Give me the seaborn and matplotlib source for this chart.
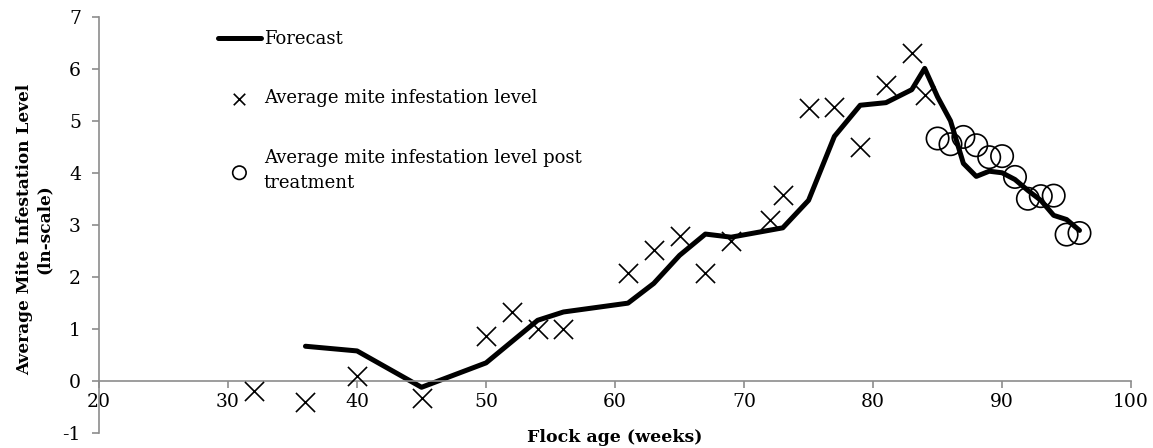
import numpy as np
import pandas as pd
import matplotlib
matplotlib.use('Agg')
import matplotlib.pyplot as plt
import seaborn as sns

# forecast line
forecast_week = [36, 40, 45, 50, 52, 54, 56, 61, 63, 65, 67, 69, 73, 75, 77, 79, 81, 83,
                 84, 85, 86, 87, 88, 89, 90, 91, 92, 93, 94, 95, 96]
forecast_level = [0.67, 0.58, -0.12, 0.35, 0.76, 1.17, 1.33, 1.50, 1.88, 2.42, 2.83, 2.77, 2.95, 3.48,
                  4.71, 5.31, 5.36, 5.61, 6.02, 5.47, 5.01, 4.19, 3.94, 4.04, 4.01, 3.88, 3.67,
                  3.48, 3.19, 3.11, 2.90]

# observed mite levels
mite_week = [32, 36, 40, 45, 50, 52, 54, 56, 61, 63, 65, 67, 69, 72, 73, 75, 77, 79, 81, 83, 84]
mite_level = [-0.20, -0.40, 0.09, -0.33, 0.87, 1.32, 1.00, 1.00, 2.08, 2.53, 2.80, 2.08, 2.70,
              3.10, 3.58, 5.25, 5.28, 4.50, 5.70, 6.31, 5.50]

# observed mite levels after treatment
post_week = [85, 86, 87, 88, 89, 90, 91, 92, 93, 94, 95, 96]
post_level = [4.67, 4.56, 4.70, 4.54, 4.31, 4.33, 3.93, 3.51, 3.56, 3.57, 2.82, 2.85]

sns.set_style('ticks')
plt.rcParams['font.family'] = ['DejaVu Serif']
plt.rcParams['axes.unicode_minus'] = False
plt.rcParams['text.color'] = 'black'
plt.rcParams['axes.labelcolor'] = 'black'

fig = plt.figure(figsize=(11.53, 4.48), dpi=100)
ax = fig.add_axes([0.0859, 0.0335, 0.8951, 0.9275])

sns.lineplot(x=forecast_week, y=forecast_level, color='black', linewidth=3.6,
             ax=ax, label='Forecast')
sns.scatterplot(x=mite_week, y=mite_level, marker='x', color='black', s=190,
                linewidth=1.2, ax=ax, label='Average mite infestation level', zorder=3)
sns.scatterplot(x=post_week, y=post_level, marker='o', facecolor='none', edgecolor='black',
                s=260, linewidth=1.2, ax=ax,
                label='Average mite infestation level post\ntreatment', zorder=3)

ax.set_xlim(20, 100)
ax.set_ylim(-1, 7)
ax.set_xticks(range(20, 101, 10))
ax.set_yticks(range(-1, 8))

gray = '#8c8c8c'
ax.spines['right'].set_visible(False)
ax.spines['top'].set_visible(False)
ax.spines['bottom'].set_position(('data', 0))
for s in ['left', 'bottom']:
    ax.spines[s].set_color(gray)
    ax.spines[s].set_linewidth(1.2)
ax.tick_params(axis='both', colors=gray, labelcolor='black', labelsize=13.5,
               length=5, width=1.2, direction='out')
ax.tick_params(axis='y', pad=8)

ax.set_xlabel('Flock age (weeks)', fontsize=12.5, fontweight='bold')
ax.xaxis.set_label_coords(0.5, 0.01)
ax.set_ylabel('Average Mite Infestation Level\n(ln-scale)', fontsize=12.2,
              fontweight='bold', multialignment='center')
ax.yaxis.set_label_coords(-0.045, 0.49)

leg = ax.legend(loc='upper left', bbox_to_anchor=(0.115, 0.97), frameon=False,
                fontsize=13, handlelength=2.4, handletextpad=0.15, labelspacing=2.3,
                borderpad=0, borderaxespad=0, markerscale=0.6, labelcolor='black')
for t in leg.get_texts():
    t.set_linespacing(1.5)

fig.savefig('out.png', dpi=100)
